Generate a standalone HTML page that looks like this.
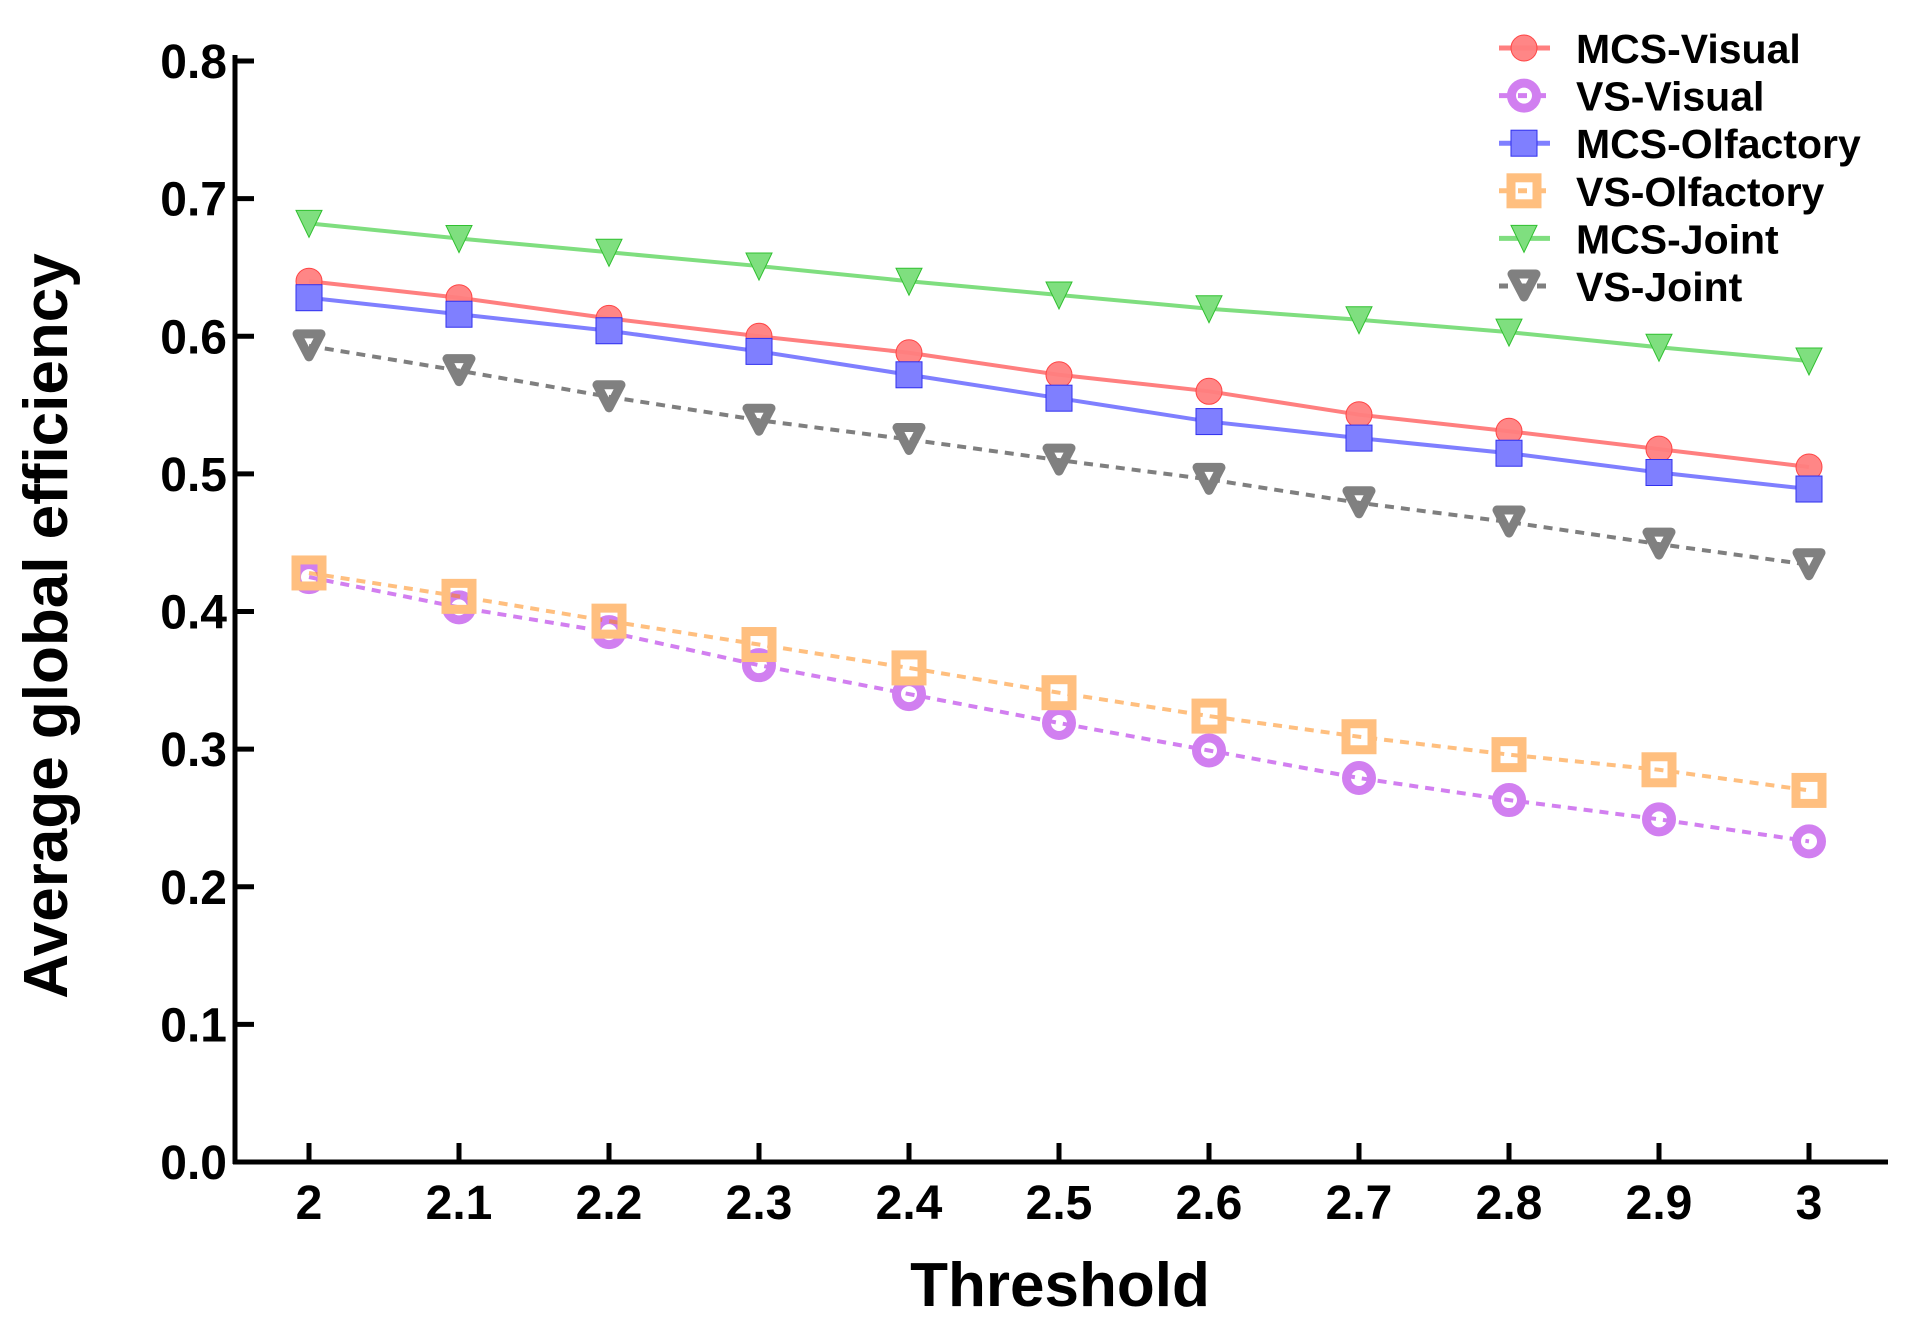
<!DOCTYPE html>
<html><head><meta charset="utf-8">
<style>
html,body{margin:0;padding:0;background:#fff;}
svg{display:block;font-family:"Liberation Sans",Arial,sans-serif;font-weight:bold;}
</style></head>
<body>
<svg id="chart" width="1905" height="1332" viewBox="0 0 1905 1332"></svg>
<script>
const categories = [2, 2.1, 2.2, 2.3, 2.4, 2.5, 2.6, 2.7, 2.8, 2.9, 3];
const xTickLabels = ["2","2.1","2.2","2.3","2.4","2.5","2.6","2.7","2.8","2.9","3"];
const yTicks = [0, 0.1, 0.2, 0.3, 0.4, 0.5, 0.6, 0.7, 0.8];
const yTickLabels = ["0.0","0.1","0.2","0.3","0.4","0.5","0.6","0.7","0.8"];
const seriesNames = ["MCS-Visual","VS-Visual","MCS-Olfactory","VS-Olfactory","MCS-Joint","VS-Joint"];
const mcsVisual = [0.640,0.628,0.613,0.600,0.588,0.572,0.560,0.543,0.531,0.518,0.505];
const vsVisual = [0.425,0.403,0.385,0.361,0.340,0.319,0.299,0.279,0.263,0.249,0.233];
const mcsOlfactory = [0.628,0.616,0.604,0.589,0.572,0.555,0.538,0.526,0.515,0.501,0.489];
const vsOlfactory = [0.428,0.411,0.393,0.376,0.359,0.341,0.324,0.309,0.296,0.285,0.270];
const mcsJoint = [0.682,0.671,0.661,0.651,0.640,0.630,0.620,0.612,0.603,0.592,0.582];
const vsJoint = [0.593,0.575,0.556,0.539,0.525,0.510,0.496,0.479,0.465,0.449,0.434];

const NS = "http://www.w3.org/2000/svg";
const svg = document.getElementById("chart");
function xs(v){ return 309 + (v - 2) * 1500; }
function ys(v){ return 1162 - v * 1376.25; }
function mk(tag, attrs, parent){
  const e = document.createElementNS(NS, tag);
  for (const k in attrs) e.setAttribute(k, attrs[k]);
  (parent || svg).appendChild(e);
  return e;
}
const styles = [
  {data: mcsVisual, color:"#ff7f7f", line:"rgba(255,0,0,0.5)", dash:null, marker:"circle", hollow:false},
  {data: vsVisual, color:"#d17ff0", line:"rgba(165,0,225,0.5)", dash:"9,7", marker:"circle", hollow:true},
  {data: mcsOlfactory, color:"#7f7fff", line:"rgba(0,0,255,0.5)", dash:null, marker:"square", hollow:false},
  {data: vsOlfactory, color:"#ffbf7f", line:"rgba(255,128,0,0.5)", dash:"9,7", marker:"square", hollow:true},
  {data: mcsJoint, color:"#7fdf7f", line:"rgba(0,190,0,0.5)", dash:null, marker:"tri", hollow:false},
  {data: vsJoint, color:"#808080", line:"rgba(0,0,0,0.5)", dash:"9,7", marker:"tri", hollow:true}
];
const edge = ["#ff4444","#b040e0","#3030ee","#ff9f3f","#30c030","#606060"];
function marker(g, s, i, cx, cy){
  let e;
  if (s.marker === "circle") {
    if (s.hollow) e = mk("circle",{cx:cx,cy:cy,r:12.5,fill:"none",stroke:s.color,"stroke-width":9},g);
    else e = mk("circle",{cx:cx,cy:cy,r:13,fill:s.color,"fill-opacity":0.95,stroke:edge[i],"stroke-width":1},g);
  } else if (s.marker === "square") {
    if (s.hollow) e = mk("rect",{x:cx-13,y:cy-13,width:26,height:26,fill:"none",stroke:s.color,"stroke-width":9},g);
    else e = mk("rect",{x:cx-13,y:cy-13,width:26,height:26,fill:s.color,stroke:edge[i],"stroke-width":1},g);
  } else {
    if (s.hollow) e = mk("path",{d:`M${cx-12},${cy-12}L${cx+12},${cy-12}L${cx},${cy+11}Z`,fill:"none",stroke:s.color,"stroke-width":9,"stroke-linejoin":"round"},g);
    else e = mk("path",{d:`M${cx-13},${cy-13}L${cx+13},${cy-13}L${cx},${cy+14}Z`,fill:s.color,stroke:edge[i],"stroke-width":1},g);
  }
  return e;
}
const axes = mk("g",{});


mk("line",{x1:235,y1:55,x2:235,y2:1164,stroke:"#000","stroke-width":5},axes);
mk("line",{x1:233,y1:1162,x2:1888,y2:1162,stroke:"#000","stroke-width":5},axes);
yTicks.forEach((v,i)=>{
  mk("line",{x1:235,y1:ys(v),x2:254,y2:ys(v),stroke:"#000","stroke-width":5},axes);
  const t = mk("text",{x:227,y:ys(v)+17,"text-anchor":"end","font-size":48},axes);
  t.textContent = yTickLabels[i];
  
  
});
categories.forEach((v,i)=>{
  mk("line",{x1:xs(v),y1:1143,x2:xs(v),y2:1162,stroke:"#000","stroke-width":5},axes);
  const t = mk("text",{x:xs(v),y:1219,"text-anchor":"middle","font-size":48},axes);
  t.textContent = xTickLabels[i];
  
  
});
const xt = mk("text",{x:1060,y:1306,"text-anchor":"middle","font-size":62});
xt.textContent = "Threshold";


const yt = mk("text",{x:0,y:0,"text-anchor":"middle","font-size":62,transform:"translate(67,626) rotate(-90)"});
yt.textContent = "Average global efficiency";


styles.forEach((s,i)=>{
  const g = mk("g",{});
  
  
  const pts = s.data.map((v,j)=>xs(categories[j])+","+ys(v)).join(" ");
  const pl = mk("polyline",{points:pts,fill:"none",stroke:s.line,"stroke-width":4},g);
  if (s.dash) pl.setAttribute("stroke-dasharray", s.dash);
  s.data.forEach((v,j)=>{
    const m = marker(g, s, i, xs(categories[j]), ys(v));
    
    
  });
});
const lg = mk("g",{});


styles.forEach((s,i)=>{
  const cy = 48 + i * 47.6;
  const e = mk("g",{},lg);
  
  
  const l = mk("line",{x1:1499,y1:cy,x2:1550,y2:cy,stroke:s.line,"stroke-width":5},e);
  if (s.dash) l.setAttribute("stroke-dasharray","9,10");
  marker(e, s, i, 1524, cy);
  const t = mk("text",{x:1576,y:cy+15,"font-size":41},e);
  t.textContent = seriesNames[i];
});
</script>
</body></html>
